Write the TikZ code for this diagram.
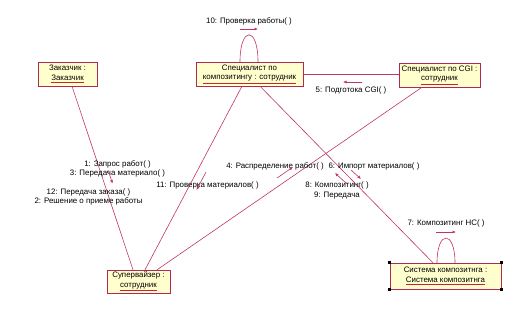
\documentclass[tikz,border=0pt]{standalone}
\usepackage{fontspec}
\setmainfont{Liberation Sans}
\usetikzlibrary{arrows.meta,positioning,calc}
\definecolor{RoseLine}{RGB}{192,52,104}
\definecolor{RoseBorder}{RGB}{178,40,84}
\definecolor{RoseFill}{RGB}{255,255,206}
\definecolor{RoseUnder}{RGB}{205,30,60}
\newcommand{\objname}[1]{{\color{RoseUnder}\underline{\color{black}#1}}}

\begin{document}
\begin{tikzpicture}[x=1pt,y=-1pt,
  obj/.style={draw=RoseBorder,fill=RoseFill,align=center,inner sep=1pt,
    font=\fontsize{7.9}{9.8}\selectfont,minimum height=24pt},
  link/.style={draw=RoseLine,line width=0.6pt},
  msg/.style={-{Latex[length=3.5pt,width=3pt]},draw=RoseLine,line width=0.6pt},
  lbl/.style={align=center,inner sep=0pt,font=\fontsize{7.9}{9.8}\selectfont}
]
\useasboundingbox (0,0) rectangle (530,332);
% objects
\node[obj,minimum width=59pt] (zak) at (67.5,74) {Заказчик :\\\objname{Заказчик}};
\node[obj,minimum width=107pt] (spec) at (249.5,74) {Специалист по\\\objname{композитингу : сотрудник}};
\node[obj,minimum width=81pt] (cgi) at (439.5,75) {Специалист по CGI :\\\objname{сотрудник}};
\node[obj,minimum width=63pt,minimum height=23pt] (sup) at (138.5,281.5) {Супервайзер :\\\objname{сотрудник}};
\node[obj,minimum width=111pt,minimum height=26pt] (sys) at (445.5,276) {Система композитнга :\\\objname{Система композитнга}};
\foreach \a in {north west,north east,south west,south east}
  \fill ([shift={(-1.6,-1.6)}]sys.\a) rectangle ++(3.2,3.2);

% links
\draw[link] ([xshift=4.5]zak.south) -- ([xshift=-5.5]sup.north);
\draw[link] ([xshift=-7.5]spec.south) -- ([xshift=6.5]sup.north);
\draw[link] ([xshift=10.5]spec.south) -- ([xshift=-12.5]sys.north);
\draw[link] (spec.east) -- (spec.east -| cgi.west);
\draw[link] ([xshift=-17.5]cgi.south) -- ([xshift=18.5]sup.north);
\draw[link] ([xshift=-9.5]spec.north) .. controls +(0,-36) and +(0,-36) .. ([xshift=8.5]spec.north);
\draw[link] ([xshift=-8.5]sys.north) .. controls +(0,-33) and +(0,-33) .. ([xshift=9.5]sys.north);

% messages
\node[lbl] (m10) at (249,21) {10: Проверка работы( )};
\draw[msg] (240,29) -- (258,29);
\node[lbl] (m5) at (351,90) {5: Подготока CGI( )};
\draw[msg] (362,82) -- (343,82);
\node[lbl] (m1) at (117.5,169) {1: Запрос работ( )\\3: Передача материало( )};
\node[lbl] (m12) at (88.5,197) {12: Передача заказа( )\\2: Решение о приеме работы};
\draw[msg] (108,170) -- (112.6,183.5);
\node[lbl] (m11) at (207.5,185) {11: Проверка материалов( )};
\draw[msg] (206,172) -- (196.5,190);
\node[lbl] (m4) at (275,166) {4: Распределение работ( )};
\draw[msg] (277,178) -- (293,167);
\node[lbl] (m6) at (374,166) {6: Импорт материалов( )};
\draw[msg] (351,170) -- (361,179);
\node[lbl] (m8) at (337,190.5) {8: Композитинг( )\\9: Передача};
\draw[msg] (347,184) -- (335,173);
\node[lbl] (m7) at (446,223) {7: Композитинг НС( )};
\draw[msg] (436,232) -- (456,232);
\end{tikzpicture}
\end{document}
